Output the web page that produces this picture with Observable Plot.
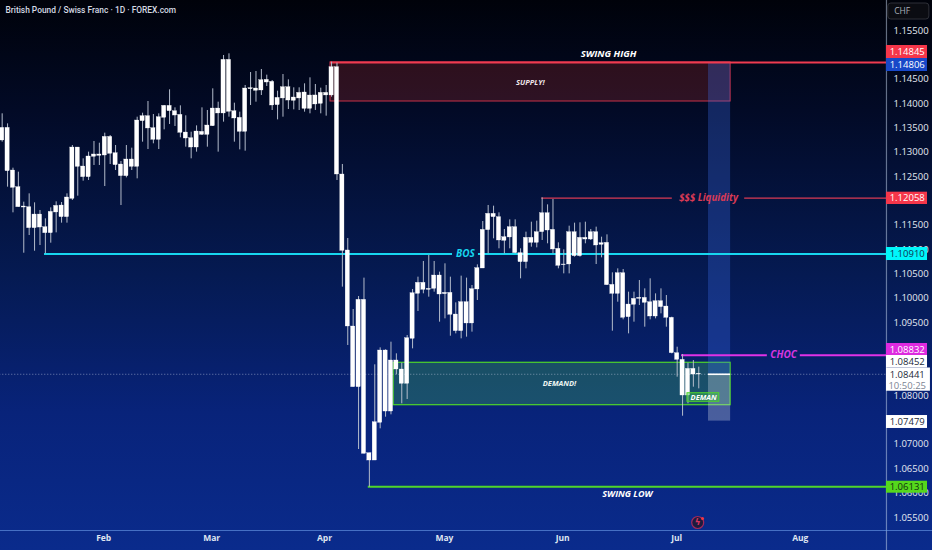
<!DOCTYPE html>
<html>
<head>
<meta charset="utf-8">
<style>html,body{margin:0;padding:0;background:#0a2a85;overflow:hidden}</style>
<script src="https://cdn.jsdelivr.net/npm/d3@7"></script>
<script src="https://cdn.jsdelivr.net/npm/@observablehq/plot@0.6"></script>
</head>
<body>
<div id="chart"></div>
<script>
const high = [1.13789,1.13583,1.12673,1.12591,1.11975,1.12146,1.11961,1.11804,1.11633,1.11858,1.11982,1.11968,1.12146,1.13138,1.13097,1.12865,1.13002,1.13221,1.13186,1.13392,1.13344,1.13138,1.12810,1.13138,1.13084,1.13720,1.13802,1.14042,1.13775,1.13789,1.13960,1.14282,1.13912,1.13953,1.13748,1.13412,1.13542,1.13912,1.13857,1.14302,1.14028,1.14987,1.15021,1.14008,1.13823,1.14371,1.14637,1.14658,1.14699,1.14583,1.14473,1.14254,1.14596,1.14487,1.14323,1.14323,1.14405,1.14528,1.14391,1.14316,1.14371,1.14850,1.14830,1.12749,1.11229,1.09771,1.10038,1.10415,1.06821,1.08635,1.08984,1.08943,1.09100,1.08861,1.08669,1.09237,1.10182,1.10435,1.10757,1.10880,1.10757,1.10538,1.10709,1.10435,1.09908,1.10456,1.10415,1.10264,1.10688,1.11578,1.11907,1.11893,1.11756,1.11414,1.11612,1.11612,1.11017,1.11359,1.11564,1.11585,1.12064,1.11920,1.12030,1.11140,1.10996,1.11482,1.11544,1.11551,1.11564,1.11414,1.11462,1.11256,1.11304,1.10524,1.10606,1.10592,1.10127,1.10127,1.10366,1.10195,1.10401,1.10092,1.10195,1.10058,1.09613,1.08997,1.08847,1.08669,1.08723,1.08587];
const bodyTop = [1.13501,1.13501,1.12625,1.12283,1.11886,1.11872,1.11721,1.11721,1.11461,1.11776,1.11899,1.11906,1.12071,1.13097,1.13097,1.12707,1.12913,1.12954,1.12954,1.13316,1.13316,1.12981,1.12748,1.12851,1.12851,1.13652,1.13741,1.13741,1.13494,1.13720,1.13953,1.13953,1.13843,1.13768,1.13405,1.13289,1.13426,1.13419,1.13549,1.13898,1.13898,1.14898,1.14898,1.13843,1.13707,1.14309,1.14316,1.14309,1.14480,1.14487,1.14446,1.14117,1.14336,1.14336,1.14124,1.14220,1.14227,1.14165,1.14166,1.14220,1.14220,1.14747,1.14747,1.12543,1.10983,1.09422,1.09970,1.09970,1.06821,1.07457,1.08929,1.08929,1.08724,1.08724,1.08539,1.09182,1.10106,1.10319,1.10319,1.10195,1.10469,1.10469,1.10113,1.10113,1.09668,1.09922,1.09922,1.10189,1.10620,1.11407,1.11736,1.11736,1.11667,1.11256,1.11462,1.11462,1.10928,1.11243,1.11243,1.11359,1.11749,1.11749,1.11407,1.11017,1.10695,1.11359,1.11359,1.11243,1.11243,1.11359,1.11359,1.11133,1.11140,1.10277,1.10517,1.10517,1.09873,1.09990,1.10010,1.10010,1.09921,1.09942,1.09942,1.09832,1.09600,1.08874,1.08737,1.08552,1.08552,1.08450];
const bodyBottom = [1.13241,1.12611,1.12269,1.11872,1.11865,1.11441,1.11441,1.11454,1.11338,1.11338,1.11763,1.11667,1.11667,1.12043,1.12700,1.12488,1.12488,1.12906,1.12926,1.12933,1.12967,1.12735,1.12509,1.12509,1.12700,1.12700,1.13638,1.13488,1.13255,1.13255,1.13707,1.13843,1.13754,1.13399,1.13282,1.13097,1.13097,1.13357,1.13357,1.13535,1.13796,1.13796,1.13830,1.13693,1.13419,1.13419,1.14295,1.14261,1.14268,1.14432,1.13960,1.13967,1.14104,1.14062,1.14056,1.14104,1.13891,1.13891,1.13981,1.13994,1.14166,1.14166,1.12543,1.10976,1.09422,1.08176,1.08176,1.06807,1.06670,1.06670,1.07444,1.07676,1.07676,1.08539,1.08245,1.08245,1.09169,1.10093,1.10175,1.10175,1.10195,1.10079,1.10086,1.09662,1.09326,1.09326,1.09484,1.09484,1.10182,1.10613,1.11400,1.11667,1.11188,1.11181,1.11250,1.10928,1.10743,1.10743,1.11140,1.11140,1.11359,1.11393,1.11003,1.10668,1.10682,1.10695,1.10866,1.10866,1.11208,1.11208,1.11085,1.11099,1.10271,1.10092,1.10092,1.09600,1.09613,1.09867,1.09990,1.09908,1.09627,1.09627,1.09819,1.09600,1.08874,1.08737,1.08005,1.08005,1.08436,1.08436];
const low = [1.13207,1.12283,1.11756,1.11872,1.10927,1.11290,1.10968,1.11085,1.10914,1.11133,1.11345,1.11544,1.11544,1.12009,1.12098,1.12406,1.12420,1.12728,1.12728,1.12296,1.12748,1.12625,1.11906,1.12474,1.12625,1.12454,1.13207,1.13056,1.13173,1.13056,1.13460,1.13570,1.13529,1.13296,1.13104,1.12865,1.13002,1.13344,1.13104,1.13529,1.13002,1.13618,1.13720,1.13207,1.13049,1.13022,1.13960,1.14028,1.14165,1.14350,1.13857,1.13665,1.13720,1.13878,1.13871,1.13857,1.13823,1.13789,1.13858,1.13789,1.13741,1.14130,1.12420,1.10230,1.09032,1.08176,1.06896,1.06807,1.06123,1.06670,1.07321,1.07560,1.07608,1.08429,1.07834,1.07923,1.08963,1.09730,1.10093,1.10024,1.10127,1.09511,1.09579,1.09223,1.09271,1.09169,1.09203,1.09306,1.09956,1.10613,1.10914,1.11222,1.11017,1.10914,1.11017,1.10914,1.10401,1.10606,1.11051,1.11037,1.11188,1.11120,1.10914,1.10606,1.10503,1.10503,1.10846,1.10846,1.11120,1.11188,1.10695,1.10832,1.10264,1.09326,1.09921,1.09559,1.09271,1.09511,1.09853,1.09408,1.09559,1.09579,1.09682,1.09408,1.08860,1.08381,1.07580,1.07834,1.08176,1.08142];

const monthNames = ["Feb","Mar","Apr","May","Jun","Jul","Aug"];
const monthIdx = [18.8,38.8,59.7,81.9,103.8,124.9,147.8];
const priceTicks = [1.155,1.145,1.14,1.135,1.13,1.125,1.115,1.11,1.105,1.1,1.095,1.08,1.07,1.065,1.06,1.055];

const axisIdx = 163.76;
const lastPrice = 1.08441;
const swingHigh = 1.14845, supplyLow = 1.14042, liquidity = 1.12058, bos = 1.1091, choc = 1.08832;
const demandHigh = 1.08677, demandLow = 1.07806, swingLow = 1.06131, targetPrice = 1.14806, stopPrice = 1.07479;

const levelRows = [
  {a:60.8,b:axisIdx,p:swingHigh,c:"#ef3b50",w:2},
  {a:99.9,b:124.1,p:liquidity,c:"#d93a55",w:1.4},
  {a:137.5,b:axisIdx,p:liquidity,c:"#d93a55",w:1.4},
  {a:7.84,b:83.4,p:bos,c:"#17d6ef",w:2},
  {a:88.2,b:axisIdx,p:bos,c:"#17d6ef",w:2},
  {a:125.8,b:141.7,p:choc,c:"#e032e6",w:2},
  {a:147.8,b:axisIdx,p:choc,c:"#e032e6",w:2},
  {a:67.8,b:axisIdx,p:swingLow,c:"#4fd62a",w:2}
];
const labelRows = [
  {t:"SWING HIGH",x:112.3,p:1.15028,c:"#ffffff",s:9.5},
  {t:"SUPPLY!",x:97.8,p:1.14432,c:"#f0e6ea",s:7.5},
  {t:"BOS",x:85.8,p:bos,c:"#17d6ef",s:10},
  {t:"CHOC",x:144.7,p:choc,c:"#d636e0",s:10},
  {t:"DEMAND!",x:103.2,p:1.08251,c:"#eef5f2",s:7.5},
  {t:"DEMAN",x:129.9,p:1.07964,c:"#ffffff",s:7.5},
  {t:"SWING LOW",x:115.8,p:1.05972,c:"#ffffff",s:9}
];
const liquidityLabel = ["$$$ Liquidity"];
const tagRows = [
  {t:"1.14845",hi:1.15192,lo:1.14925,bg:"#f5364a",fg:"#ffffff"},
  {t:"1.14806",hi:1.14925,lo:1.14658,bg:"#1848c8",fg:"#ffffff"},
  {t:"1.12058",hi:1.1218,lo:1.11927,bg:"#f5364a",fg:"#ffffff"},
  {t:"1.10910",hi:1.11044,lo:1.10777,bg:"#00f6fa",fg:"#123050"},
  {t:"1.08832",hi:1.09073,lo:1.08827,bg:"#de2ae0",fg:"#ffffff"},
  {t:"1.08452",hi:1.08827,lo:1.0857,bg:"#ffffff",fg:"#222a38"},
  {t:"1.07479",hi:1.07594,lo:1.07328,bg:"#ffffff",fg:"#222a38"},
  {t:"1.06131",hi:1.06245,lo:1.05999,bg:"#55d81c",fg:"#123010"}
];

const candles = high.map((h,i)=>({i,h,t:bodyTop[i],b:bodyBottom[i],l:low[i]}));
const font = "'Open Sans','DejaVu Sans',sans-serif";

const plot = Plot.plot({
  width: 932, height: 550,
  marginTop: 0, marginLeft: 0, marginRight: 46, marginBottom: 20,
  style: {background: "linear-gradient(180deg,#00020a 0%,#020a26 20%,#051a52 50%,#08237a 75%,#0a2b8c 100%)", fontFamily: font, display:"block", overflow:"visible"},
  x: {type:"linear", domain:[0,100], range:[1.67,541.67]},
  y: {type:"linear", domain:[1.055,1.155], range:[517,30]},
  marks: [
    // supply and demand zones
    Plot.rect([0],{x1:60.8,x2:134.9,y1:supplyLow,y2:swingHigh,fill:"rgba(224,56,40,0.2)",stroke:"#c8324a",strokeWidth:1}),
    Plot.rect([0],{x1:72.5,x2:134.9,y1:demandLow,y2:demandHigh,fill:"rgba(80,220,84,0.25)",stroke:"#4fd62a",strokeWidth:1.2}),
    // position tool
    Plot.rect([0],{x1:130.8,x2:134.9,y1:lastPrice,y2:swingHigh,fill:"rgba(60,110,235,0.3)"}),
    Plot.rect([0],{x1:130.8,x2:134.9,y1:stopPrice,y2:lastPrice,fill:"rgba(205,215,230,0.33)"}),
    // levels
    Plot.ruleY(levelRows,{x1:"a",x2:"b",y:"p",stroke:"c",strokeWidth:"w"}),
    Plot.ruleY([lastPrice],{x1:-1,x2:axisIdx,stroke:"#c9d3e6",strokeWidth:0.8,strokeDasharray:"1 2",strokeOpacity:0.7}),
    // candles
    Plot.ruleX(candles,{x:"i",y1:"l",y2:"h",stroke:"#b4bccb",strokeWidth:1}),
    Plot.rect(candles,{x1:d=>d.i-0.39,x2:d=>d.i+0.39,y1:"b",y2:"t",fill:"#ffffff",stroke:"#ffffff",strokeWidth:0.3}),
    Plot.ruleY([lastPrice],{x1:130.8,x2:134.9,stroke:"#ffffff",strokeWidth:1.6}),
    // DEMAN box
    Plot.rect([0],{x1:126.9,x2:132.8,y1:1.07876,y2:1.08052,fill:"rgba(60,190,70,0.45)",stroke:"#4fd62a",strokeWidth:1}),
    // annotations
    Plot.text(labelRows,{x:"x",y:"p",text:"t",fill:"c",fontSize:"s",fontStyle:"italic",fontWeight:"bold",fontFamily:font}),
    Plot.text(liquidityLabel,{x:130.8,y:liquidity,text:d=>d,fill:"#d93a55",fontSize:9.8,fontStyle:"italic",fontWeight:"bold",fontFamily:font}),
    // header
    Plot.text(["British Pound / Swiss Franc \u00b7 1D \u00b7 FOREX.com"],{x:0.62,y:1.15911,text:d=>d,textAnchor:"start",fill:"#d5dae4",fontSize:8.4,fontWeight:500,fontFamily:"Roboto,'Open Sans',sans-serif"}),
    // axes
    Plot.axisY({anchor:"right",ticks:priceTicks,tickSize:0,tickPadding:7,tickFormat:d3.format(".5f"),label:null,fill:"#e4e9f2",fontSize:9.5,fontFamily:font}),
    Plot.axisX({anchor:"bottom",ticks:monthIdx,tickSize:0,tickPadding:4,tickFormat:d=>monthNames[monthIdx.indexOf(d)],label:null,fill:"#dfe5f0",fontSize:8.5,fontWeight:"bold",fontFamily:font}),
    Plot.ruleX([axisIdx],{y1:1.16116,y2:1.04822,stroke:"rgba(200,215,240,0.5)",strokeWidth:1.2}),
    Plot.ruleY([1.05233],{x1:-1,x2:173,stroke:"rgba(110,160,235,0.6)",strokeWidth:1}),
    // CHF button
    Plot.rect([0],{x1:164.1,x2:171.7,y1:1.15726,y2:1.16054,fill:"#0b0c12",stroke:"#2e3038",strokeWidth:1,rx:3}),
    Plot.text(["CHF"],{x:165.2,y:1.1589,text:d=>d,textAnchor:"start",fill:"#aab0bb",fontSize:8.5,fontFamily:font}),
    // price tags
    Plot.rect(tagRows,{x1:axisIdx,x2:171.36,y1:"lo",y2:"hi",fill:"bg"}),
    Plot.text(tagRows,{x:167.6,y:d=>(d.lo+d.hi)/2,text:"t",fill:"fg",fontSize:9.5,fontFamily:font}),
    // live price tag
    Plot.rect([0],{x1:axisIdx,x2:171.9,y1:1.08093,y2:1.0857,fill:"#ffffff"}),
    Plot.text([lastPrice],{x:167.6,y:1.08422,text:d=>d.toFixed(5),fill:"#222a38",fontSize:9.5,fontFamily:font}),
    Plot.text(["10:50:25"],{x:167.6,y:1.08211,text:d=>d,fill:"#7c8494",fontSize:9.5,fontFamily:font}),
    // alert icon
    Plot.dot([0],{x:128.8,y:1.05397,r:6,fill:"#1c1b3e",stroke:"#a52a5c",strokeWidth:1.2}),
    Plot.text(["\u03df"],{x:128.8,y:1.05397,text:d=>d,fill:"#d8345f",fontSize:9,fontWeight:"bold",fontFamily:"'DejaVu Sans'"}),
    Plot.dot([0],{x:129.7,y:1.05479,r:1.5,fill:"#f23645"})
  ]
});
document.getElementById("chart").appendChild(plot);
</script>
</body>
</html>
